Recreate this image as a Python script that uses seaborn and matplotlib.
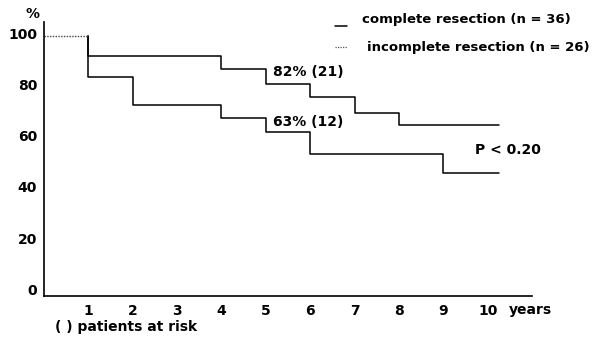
import matplotlib
matplotlib.use("Agg")
import matplotlib.pyplot as plt
from matplotlib.lines import Line2D
import pandas as pd
import seaborn as sns

# Survival data (years, % surviving)
complete_years = [0, 1, 4, 5, 6, 7, 8, 10.25]
complete_surv = [99, 91, 86, 80, 75, 69, 64, 64]
incomplete_years = [0, 1, 2, 4, 5, 6, 9, 10.25]
incomplete_surv = [99, 83, 72, 67, 61.5, 53, 45.5, 45.5]

x_ticks = [1, 2, 3, 4, 5, 6, 7, 8, 9, 10]
y_ticks = [0, 20, 40, 60, 80, 100]

sns.set_style("white")
plt.rcParams["font.family"] = ["DejaVu Sans"]
plt.rcParams["text.color"] = "black"
plt.rcParams["xtick.color"] = "black"
plt.rcParams["ytick.color"] = "black"

FS = 10
W, H = 596, 341
fig = plt.figure(figsize=(W / 100, H / 100), dpi=100)
ax = fig.add_axes([44 / W, 1 - 296 / H, 488 / W, 274 / H])


def solid_part(years, surv):
    # from year 1 on: vertical drop at 1 then steps
    return pd.DataFrame({"year": [years[1]] + years[1:], "surv": [surv[0]] + surv[1:]})


for years, surv in [(complete_years, complete_surv),
                    (incomplete_years, incomplete_surv)]:
    df = solid_part(years, surv)
    ax.plot(df["year"], df["surv"], drawstyle="steps-post", color="black", lw=1.1)

# shared first interval drawn dotted
first = pd.DataFrame({"year": complete_years[:2], "surv": [complete_surv[0]] * 2})
sns.lineplot(data=first, x="year", y="surv", ax=ax, color="#444444", lw=1.0,
             linestyle=(0, (1, 1)), estimator=None, sort=False)

ax.set_xlim(0, 11)
ax.set_ylim(-2.5, 104.3)
ax.set_xticks(x_ticks)
ax.set_yticks(y_ticks)
ax.set_xticklabels([str(t) for t in x_ticks], fontsize=FS, fontweight="bold")
ax.set_yticklabels([str(t) for t in y_ticks], fontsize=FS, fontweight="bold")
ax.tick_params(length=0)
ax.tick_params(axis="y", pad=5)
ax.tick_params(axis="x", pad=6)
ax.set_xlabel("")
ax.set_ylabel("")
sns.despine(ax=ax)
for s in ["left", "bottom"]:
    ax.spines[s].set_color("black")
    ax.spines[s].set_linewidth(1.2)


def ftext(px, py, s, ha="left", fs=FS, **kw):
    fig.text(px / W, 1 - py / H, s, ha=ha, va="center", fontsize=fs,
             fontweight="bold", **kw)


ftext(33, 14, "%", ha="center")
ftext(273, 72, "82% (21)")
ftext(273, 122, "63% (12)")
ftext(475, 150, "P < 0.20")
ftext(509, 310, "years")
ftext(55, 327, "( ) patients at risk")

# legend
fig.add_artist(Line2D([335 / W, 347 / W], [1 - 25.5 / H] * 2, color="black", lw=1.1))
fig.add_artist(Line2D([335 / W, 347 / W], [1 - 46.5 / H] * 2, color="#555555", lw=0.9,
                      linestyle=(0, (1, 1))))
ftext(362, 20, "complete resection (n = 36)", fs=9.5)
ftext(367, 48, "incomplete resection (n = 26)", fs=9.5)

fig.savefig("out.png", dpi=100)
